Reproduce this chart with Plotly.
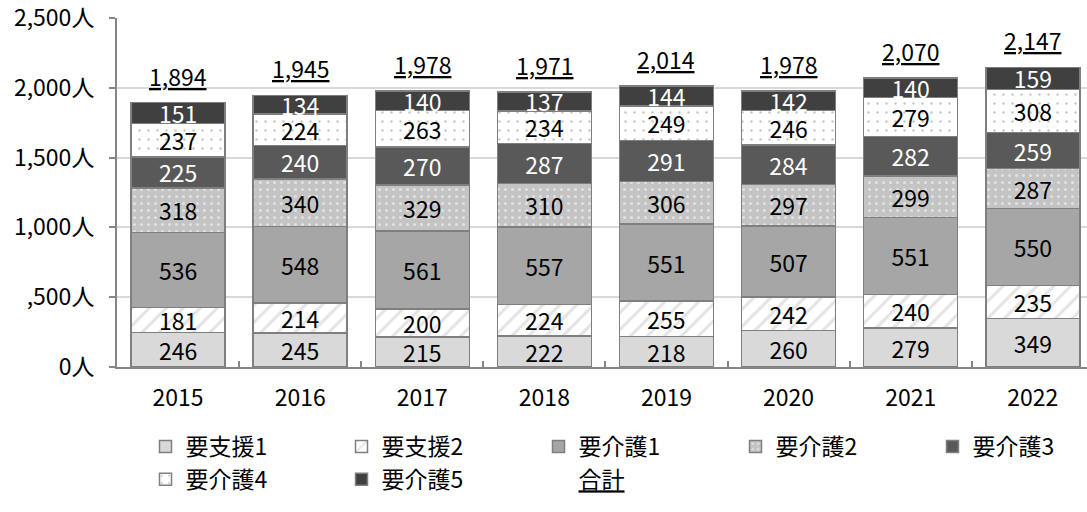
import plotly.graph_objects as go

years = ["2015", "2016", "2017", "2018", "2019", "2020", "2021", "2022"]
series_names = ["要支援1", "要支援2", "要介護1", "要介護2", "要介護3", "要介護4", "要介護5"]
shien1 = [246, 245, 215, 222, 218, 260, 279, 349]
shien2 = [181, 214, 200, 224, 255, 242, 240, 235]
kaigo1 = [536, 548, 561, 557, 551, 507, 551, 550]
kaigo2 = [318, 340, 329, 310, 306, 297, 299, 287]
kaigo3 = [225, 240, 270, 287, 291, 284, 282, 259]
kaigo4 = [237, 224, 263, 234, 249, 246, 279, 308]
kaigo5 = [151, 134, 140, 137, 144, 142, 140, 159]
totals = [1894, 1945, 1978, 1971, 2014, 1978, 2070, 2147]
total_name = "合計"
y_tickvals = [0, 500, 1000, 1500, 2000, 2500]
y_ticktext = ["0人", ",500人", "1,000人", "1,500人", "2,000人", "2,500人"]

FONT = "Noto Sans CJK JP"
FS = 23
LFS = 23
BORDER = "#7f7f7f"

# legend column for each entry (5 columns, entries fill row by row)
styles = [
    dict(color="#d9d9d9", pattern=dict(shape=""), text="black", legend="legend"),
    dict(color="white", pattern=dict(shape="/", fgcolor="#c8c8c8", bgcolor="white", size=12, solidity=0.25), text="black", legend="legend2"),
    dict(color="#a6a6a6", pattern=dict(shape=""), text="black", legend="legend3"),
    dict(color="#c4c4c4", pattern=dict(shape=".", fgcolor="white", bgcolor="#c4c4c4", size=7, solidity=0.15), text="black", legend="legend4"),
    dict(color="#595959", pattern=dict(shape=""), text="white", legend="legend5"),
    dict(color="white", pattern=dict(shape=".", fgcolor="#8c8c8c", bgcolor="white", size=9, solidity=0.06), text="black", legend="legend"),
    dict(color="#404040", pattern=dict(shape=""), text="white", legend="legend2"),
]
values = [shien1, shien2, kaigo1, kaigo2, kaigo3, kaigo4, kaigo5]

fig = go.Figure()
for name, vals, st in zip(series_names, values, styles):
    fig.add_trace(go.Bar(
        x=years, y=vals, name=name, legend=st["legend"],
        marker=dict(color=st["color"], pattern=st["pattern"],
                    line=dict(color=BORDER, width=1.5)),
        text=[str(v) for v in vals],
        textposition="inside", insidetextanchor="middle",
        constraintext="none", textangle=0,
        textfont=dict(family=FONT, size=FS, color=st["text"]),
        hoverinfo="skip",
    ))

fig.add_trace(go.Scatter(
    x=years, y=totals, mode="lines", legend="legend3",
    line=dict(color="rgba(0,0,0,0)", width=0),
    name="<span style='text-decoration:underline'>" + total_name + "</span>",
    hoverinfo="skip",
))

# on a category axis, annotation x is the category's serial number
for i, t in enumerate(totals):
    fig.add_annotation(
        x=i, y=t, xref="x", yref="y",
        text="<span style='text-decoration:underline'>" + f"{t:,}" + "</span>",
        showarrow=False, yshift=27,
        font=dict(family=FONT, size=FS, color="black"),
    )

PLOT_L, PLOT_W, PLOT_B, PLOT_H = 117, 970, 367, 349
legend_left_px = [145.5, 341.5, 538.5, 735.5, 932.5]
legend_top_px = 425


def legend_cfg(px):
    return dict(
        orientation="v", x=(px - PLOT_L) / PLOT_W, xanchor="left",
        y=-(legend_top_px - PLOT_B) / PLOT_H, yanchor="top",
        traceorder="normal", tracegroupgap=0,
        font=dict(family=FONT, size=LFS, color="black"),
        itemclick=False, itemdoubleclick=False,
        bgcolor="rgba(0,0,0,0)", borderwidth=0,
    )


fig.update_layout(
    width=1087, height=512,
    margin=dict(l=PLOT_L, r=0, t=18, b=512 - PLOT_B, autoexpand=False),
    barmode="stack", bargap=0.23,
    paper_bgcolor="white", plot_bgcolor="white",
    font=dict(family=FONT, size=FS, color="black"),
    uniformtext=dict(mode="show", minsize=FS),
    showlegend=True,
    legend=legend_cfg(legend_left_px[0]),
    legend2=legend_cfg(legend_left_px[1]),
    legend3=legend_cfg(legend_left_px[2]),
    legend4=legend_cfg(legend_left_px[3]),
    legend5=legend_cfg(legend_left_px[4]),
    xaxis=dict(
        type="category", range=[-0.5, 7.444],
        showline=True, linecolor="#868686", linewidth=2,
        ticks="inside", tickson="boundaries", ticklen=6, tickcolor="#868686", tickwidth=1.5,
        ticklabelstandoff=9, showgrid=False,
        tickfont=dict(family=FONT, size=FS, color="black"),
    ),
    yaxis=dict(
        range=[0, 2500], tickvals=y_tickvals, ticktext=y_ticktext,
        showline=True, linecolor="#868686", linewidth=2,
        ticks="outside", ticklen=6, tickcolor="#868686", tickwidth=1.5,
        ticklabelstandoff=10, ticklabeloverflow="allow",
        showgrid=True, gridcolor="#d9d9d9", gridwidth=1.5,
        zeroline=False,
        tickfont=dict(family=FONT, size=FS, color="black"),
    ),
)

fig.write_html("out.html")
